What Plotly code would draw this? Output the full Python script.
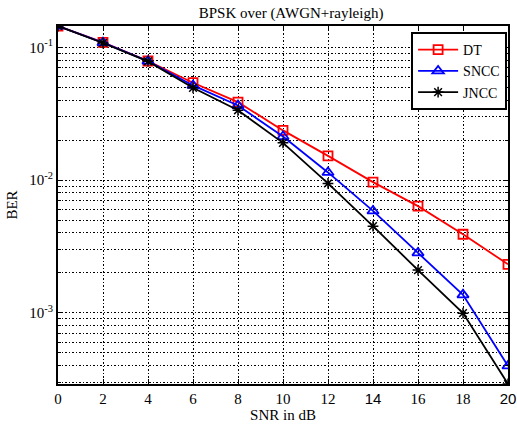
import numpy as np
import plotly.graph_objects as go

snr = [0, 2, 4, 6, 8, 10, 12, 14, 16, 18, 20]
ber_dt = [0.145, 0.1090, 0.0790, 0.0542, 0.0387, 0.0237, 0.01524, 0.00966, 0.00637, 0.00391, 0.00232]
ber_sncc = [0.145, 0.1085, 0.0788, 0.0517, 0.0365, 0.0213, 0.01143, 0.00586, 0.00283, 0.001367, 0.000398]
ber_jncc = [0.145, 0.1080, 0.0785, 0.0496, 0.0336, 0.0191, 0.00944, 0.00450, 0.00210, 0.000995, 0.000291]

x_ticks = [0, 2, 4, 6, 8, 10, 12, 14, 16, 18, 20]
x_labels = ['0', '2', '4', '6', '8', '10', '12',
            '<span style="font-family:Liberation Sans">14</span>',
            '16', '18',
            '<span style="font-family:Liberation Sans">20</span>']
y_decades = [1e-3, 1e-2, 1e-1]
y_dec_labels = ['10<sup>-3</sup>', '10<sup>-2</sup>', '10<sup>-1</sup>']

serif = "Liberation Serif, DejaVu Serif, serif"

ymin = min(ber_jncc)
ymax = max(ber_dt)

minor_vals = []
for e in range(-4, 0):
    for m in range(2, 10):
        v = m * 10.0 ** e
        if ymin * 0.999 <= v <= ymax * 1.001:
            minor_vals.append(v)

fig = go.Figure()
fig.add_trace(go.Scatter(x=snr, y=ber_dt, name='DT', mode='lines+markers',
                         line=dict(color='red', width=1.8),
                         marker=dict(symbol='square-open', size=9, color='red', line=dict(width=1.8))))
fig.add_trace(go.Scatter(x=snr, y=ber_sncc, name='SNCC', mode='lines+markers',
                         line=dict(color='blue', width=1.8),
                         marker=dict(symbol='triangle-up-open', size=10, color='blue', line=dict(width=1.8))))
fig.add_trace(go.Scatter(x=snr, y=ber_jncc, name='JNCC', mode='lines+markers',
                         line=dict(color='black', width=1.8),
                         marker=dict(symbol='asterisk-open', size=9, color='black', line=dict(width=1.5, color='black'))))

fig.update_layout(
    width=517, height=427,
    margin=dict(l=58, r=9, t=26, b=43, autoexpand=False),
    paper_bgcolor='white', plot_bgcolor='white',
    font=dict(family=serif, size=15, color='black'),
    title=dict(text='BPSK over (AWGN+rayleigh)', x=0.563, xanchor='center', y=0.9695, yanchor='middle',
               font=dict(family=serif, size=15, color='black')),
    showlegend=True,
    legend=dict(x=0.998, xanchor='right', y=0.983, yanchor='top',
                bordercolor='black', borderwidth=2, bgcolor='white',
                font=dict(family=serif, size=14, color='black'),
                tracegroupgap=0, itemwidth=40),
)
fig.update_xaxes(range=[0, 20], tickvals=x_ticks, ticktext=x_labels, automargin=False,
                 showline=True, linecolor='black', linewidth=2, mirror='ticks',
                 ticks='inside', ticklen=5, tickcolor='black',
                 showgrid=True, gridcolor='black', gridwidth=1, griddash='1.5px,2px',
                 zeroline=False,
                 title=dict(text='SNR in dB', font=dict(family=serif, size=15), standoff=0),
                 tickfont=dict(family=serif, size=15))
fig.update_yaxes(type='log', range=[np.log10(ymin), np.log10(ymax)], automargin=False,
                 tickvals=y_decades, ticktext=y_dec_labels,
                 showline=True, linecolor='black', linewidth=2, mirror='ticks',
                 ticks='inside', ticklen=5, tickcolor='black',
                 showgrid=True, gridcolor='black', gridwidth=1, griddash='1.5px,2px',
                 minor=dict(tickvals=minor_vals, ticks='inside', ticklen=3, tickcolor='black',
                            showgrid=True, gridcolor='black', gridwidth=1, griddash='1.5px,2px'),
                 zeroline=False,
                 title=dict(text='BER', font=dict(family=serif, size=15), standoff=8),
                 tickfont=dict(family=serif, size=15))

# remove the default 8px page margin so the figure sits at the window's corner
fig.write_html("out.html", config={"displayModeBar": False},
               post_script="document.body.style.margin='0';document.body.style.overflow='hidden';")
